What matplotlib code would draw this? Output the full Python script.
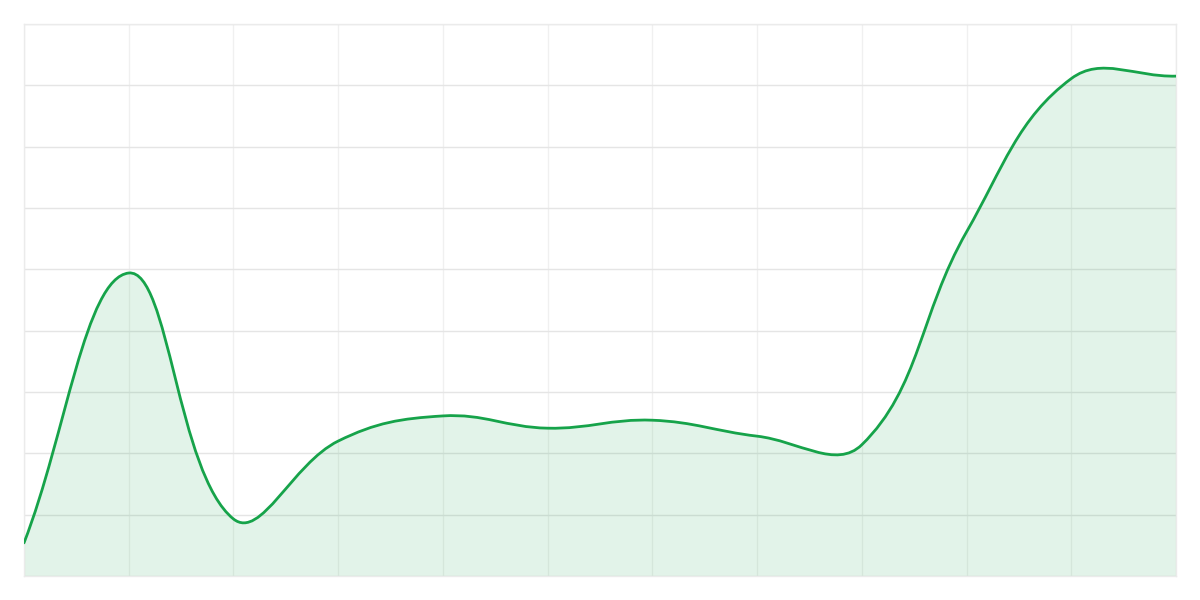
import numpy as np
import matplotlib
matplotlib.use("Agg")
import matplotlib.pyplot as plt
from matplotlib.path import Path
from matplotlib.patches import PathPatch

# values (y axis 0..90, 12 points)
x_vals = np.arange(12)
y_vals = [5.4, 49.4, 9.3, 22.0, 26.1, 24.1, 25.4, 22.8, 21.4, 56.1, 81.1, 81.5]
y_max = 90
line_color = "#16a34a"
fill_color = "#16a34a"

fig = plt.figure(figsize=(12, 6), dpi=100)
ax = fig.add_axes([0.02, 0.04, 0.96, 0.92])
ax.set_xlim(0, len(x_vals) - 1)
ax.set_ylim(0, y_max)
ax.set_xticks(x_vals)
ax.set_yticks(np.arange(0, y_max + 1, 10))
ax.tick_params(length=0, labelbottom=False, labelleft=False)
ax.xaxis.grid(True, color="#f0f0f0", linewidth=1)
ax.yaxis.grid(True, color="#e5e5e5", linewidth=1)
ax.set_axisbelow(True)
for s in ax.spines.values():
    s.set_color("#ebebeb")
    s.set_linewidth(1)


def spline(xs, ys, t=0.4):
    # chart.js style bezier control points, computed in pixel space
    pts = ax.transData.transform(np.column_stack([xs, ys]))
    n = len(pts)
    verts = [pts[0]]
    codes = [Path.MOVETO]
    cps = []
    for i in range(n):
        prev = pts[max(i - 1, 0)]
        cur = pts[i]
        nxt = pts[min(i + 1, n - 1)]
        d01 = np.hypot(*(cur - prev))
        d12 = np.hypot(*(nxt - cur))
        tot = d01 + d12
        s01 = d01 / tot if tot else 0
        s12 = d12 / tot if tot else 0
        cps.append((cur - t * s01 * (nxt - prev), cur + t * s12 * (nxt - prev)))
    for i in range(1, n):
        verts += [cps[i - 1][1], cps[i][0], pts[i]]
        codes += [Path.CURVE4] * 3
    verts = ax.transData.inverted().transform(np.array(verts))
    return verts, codes


verts, codes = spline(x_vals, y_vals)
line_path = Path(verts, codes)
fill_verts = np.vstack([verts, [[x_vals[-1], 0], [x_vals[0], 0], verts[0]]])
fill_codes = codes + [Path.LINETO, Path.LINETO, Path.CLOSEPOLY]
ax.add_patch(PathPatch(Path(fill_verts, fill_codes), facecolor=fill_color,
                       alpha=0.12, edgecolor="none", zorder=2))
ax.add_patch(PathPatch(line_path, facecolor="none", edgecolor=line_color,
                       linewidth=2.0, zorder=3, capstyle="round"))

fig.savefig("out.png", dpi=100)
